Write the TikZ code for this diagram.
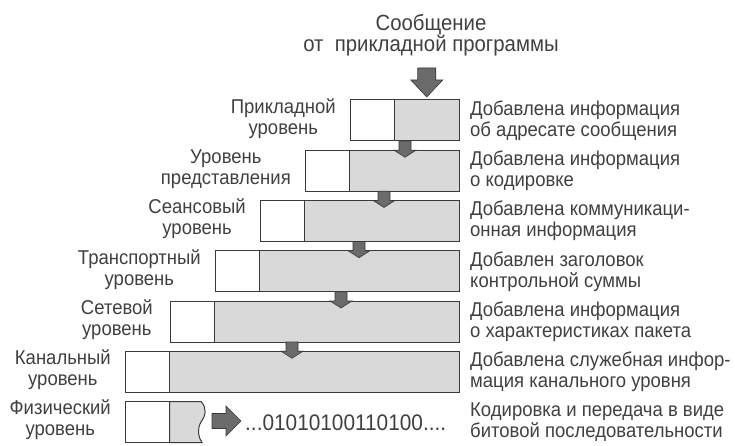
\documentclass[tikz,border=0pt]{standalone}
\usepackage{fontspec}
\setmainfont{Liberation Sans}[FakeStretch=0.925]
\usetikzlibrary{calc}
\definecolor{txt}{HTML}{404040}
\definecolor{edge}{HTML}{3A3A3A}
\definecolor{cellgray}{HTML}{D9D9D9}
\definecolor{arrgray}{HTML}{6B6B6B}
\newcommand\layerflow[3]{%
  \path[flow] let \p1=(#2.south), \p2=(#3.north) in
    ({#1pt-6pt},\y1) -- ({#1pt+6pt},\y1) -- ({#1pt+6pt},\y2) -- ({#1pt+11pt},\y2)
    -- ({#1pt},{\y2-7pt}) -- ({#1pt-11pt},\y2) -- ({#1pt-6pt},\y2) -- cycle;}
\begin{document}
\begin{tikzpicture}[x=1pt,y=-1pt,
  cell/.style={draw=edge, line width=1pt, minimum height=41pt, inner sep=0pt, outer sep=0pt, anchor=north west},
  whitecell/.style={cell, fill=white, minimum width=44.5pt},
  graycell/.style={cell, fill=cellgray},
  desc/.style={anchor=west, align=left, text=txt, font=\fontsize{20}{21}\selectfont, inner sep=0pt},
  lvl/.style={anchor=east, align=center, text=txt, font=\fontsize{20}{21}\selectfont, inner sep=0pt},
  flow/.style={fill=arrgray, draw=edge, line width=0.6pt, line join=miter}
]
\useasboundingbox (0,0) rectangle (735,446);
% title
\node[align=center, text=txt, font=\fontsize{22}{21.5}\selectfont, inner sep=0pt] (msg) at (431,35)
  {Сообщение\\от\ \ прикладной программы};
% boxes
\node[whitecell] (w1) at (350,100) {};
\node[graycell, minimum width=64.5pt] (g1) at (w1.north east) {};
\node[whitecell] (w2) at (305,150.25) {};
\node[graycell, minimum width=109.5pt] (g2) at (w2.north east) {};
\node[whitecell] (w3) at (260,200.5) {};
\node[graycell, minimum width=154.5pt] (g3) at (w3.north east) {};
\node[whitecell] (w4) at (215,250.75) {};
\node[graycell, minimum width=199.5pt] (g4) at (w4.north east) {};
\node[whitecell] (w5) at (170,301) {};
\node[graycell, minimum width=244.5pt] (g5) at (w5.north east) {};
\node[whitecell] (w6) at (125,351.25) {};
\node[graycell, minimum width=289.5pt] (g6) at (w6.north east) {};
\node[whitecell] (w7) at (125,401.5) {};
\path[fill=cellgray, draw=edge, line width=1pt]
  (w7.north east) -- (201,401.5) .. controls (207,408) and (206,415) .. (201,422)
  .. controls (197,429) and (198,437) .. (202,442.5) -- (w7.south east) -- cycle;
\coordinate (g7e) at (212,421);
% top arrow
\path[flow] let \p1=(g1.north) in
  ({\x1-9pt},{\y1+32pt}) -- ({\x1+9pt},{\y1+32pt}) -- ({\x1+9pt},{\y1+20pt}) -- ({\x1+16pt},{\y1+20pt})
  -- (\x1,{\y1+3pt}) -- ({\x1-16pt},{\y1+20pt}) -- ({\x1-9pt},{\y1+20pt}) -- cycle;
% layer arrows
\layerflow{405}{g1}{g2}
\layerflow{384}{g2}{g3}
\layerflow{359}{g3}{g4}
\layerflow{341}{g4}{g5}
\layerflow{292}{g5}{g6}
% level labels
\node[lvl] (l1) at ($(w1.west)+(-14,-2)$) {Прикладной\\уровень};
\node[lvl] (l2) at ($(w2.west)+(-14,-2)$) {Уровень\\представления};
\node[lvl] (l3) at ($(w3.west)+(-14,-2)$) {Сеансовый\\уровень};
\node[lvl] (l4) at ($(w4.west)+(-14,-2)$) {Транспортный\\уровень};
\node[lvl] (l5) at ($(w5.west)+(-17,-2)$) {Сетевой\\уровень};
\node[lvl] (l6) at ($(w6.west)+(-14,-2)$) {Канальный\\уровень};
\node[lvl] (l7) at ($(w7.west)+(-14,-2)$) {Физический\\уровень};
% descriptions
\node[desc] (d1) at ($(g1.east)+(11,0)$) {Добавлена информация\\об адресате сообщения};
\node[desc] (d2) at ($(g2.east)+(11,0)$) {Добавлена информация\\о кодировке};
\node[desc] (d3) at ($(g3.east)+(11,0)$) {Добавлена коммуникаци-\\онная информация};
\node[desc] (d4) at ($(g4.east)+(11,0)$) {Добавлен заголовок\\контрольной суммы};
\node[desc] (d5) at ($(g5.east)+(11,0)$) {Добавлена информация\\о характеристиках пакета};
\node[desc] (d6) at ($(g6.east)+(11,0)$) {Добавлена служебная инфор-\\мация канального уровня};
\node[desc] (d7) at (470,422) {Кодировка и передача в виде\\битовой последовательности};
% bits
\node[anchor=west, text=txt, font=\fontsize{22.5}{24}\selectfont, inner sep=0pt] (bits) at (245,423) {...01010100110100....};
\path[flow] let \p1=(g7e), \p2=(bits.west) in
  (\x1,{\y1+7.5pt}) -- ({\x1+14pt},{\y1+7.5pt}) -- ({\x1+14pt},{\y1+15pt}) -- ({\x2-4pt},\y1)
  -- ({\x1+14pt},{\y1-15pt}) -- ({\x1+14pt},{\y1-7.5pt}) -- (\x1,{\y1-7.5pt}) -- cycle;
\end{tikzpicture}
\end{document}
